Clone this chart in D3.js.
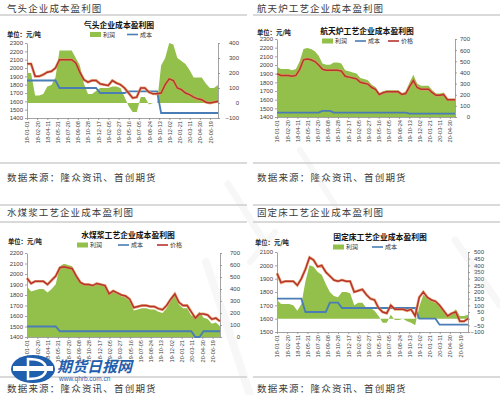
<!DOCTYPE html>
<html>
<head>
<meta charset="utf-8">
<script src="https://cdn.jsdelivr.net/npm/d3@7"></script>
<style>
body{margin:0;background:#fff;}
svg text{font-family:"Liberation Sans",Arial,sans-serif;}
.cn{font-family:"Noto Sans CJK SC",sans-serif;}
</style>
</head>
<body>
<svg id="chart" width="500" height="395"></svg>
<script>
// x axis tick dates (every 50 days, as in the source sheets)
const tickDates = ["2018-01-01","2018-02-20","2018-04-11","2018-05-31","2018-07-20","2018-09-08",
  "2018-10-28","2018-12-17","2019-02-05","2019-03-27","2019-05-16","2019-07-05","2019-08-24",
  "2019-10-13","2019-12-02","2020-01-21","2020-03-11","2020-04-30","2020-06-19"];

// 气头 (gas based)
const price1 = [2050,2050,1900,1900,1920,1950,1960,2000,2100,2100,2100,2100,2060,1950,1860,1830,
  1850,1850,1810,1800,1790,1850,1820,1800,1760,1700,1640,1650,1760,1760,1710,1690,1690,1700,1800,
  1870,1850,1760,1740,1700,1680,1650,1630,1620,1590,1580,1590,1600];
const cost1 = [1850,1850,1850,1850,1850,1850,1850,1850,1760,1760,1760,1760,1760,1760,1760,1760,
  1760,1760,1700,1700,1700,1700,1700,1700,1700,1720,1720,1720,1720,1720,1720,1720,1720,1460,1460,
  1460,1460,1460,1460,1460,1460,1460,1460,1460,1460,1460,1460,1460];
const profit1 = [200,200,50,50,60,110,120,170,350,350,350,350,300,250,130,60,60,80,100,100,100,110,
  110,100,40,-20,-60,-60,40,40,-10,0,0,250,300,400,390,300,280,260,220,170,170,170,130,100,100,120];

// 航天炉
const price2 = [1900,1880,1880,1880,1870,1880,1950,2060,2070,2060,2040,2000,1950,1940,1940,1940,
  1940,1930,1870,1860,1850,1840,1800,1790,1780,1740,1720,1660,1680,1690,1690,1690,1690,1660,1670,
  1750,1820,1740,1720,1720,1720,1680,1650,1650,1660,1600,1600,1600];
const cost2 = [1450,1450,1450,1450,1450,1450,1450,1450,1450,1450,1450,1450,1470,1470,1470,1450,
  1450,1450,1450,1450,1450,1450,1450,1450,1450,1450,1450,1450,1450,1450,1450,1450,1450,1450,1450,
  1440,1440,1440,1440,1440,1440,1440,1440,1440,1440,1440,1440,1440];
const profit2 = [450,430,430,430,420,430,500,610,620,610,590,550,480,470,470,490,490,480,420,410,
  400,390,350,340,330,290,270,210,230,240,240,240,240,210,230,310,380,300,280,280,280,240,210,210,
  220,160,160,160];

// 水煤浆
const price3 = [1960,1910,1930,1930,1930,1900,1940,1980,2060,2070,2060,2050,1980,1920,1900,1900,
  1890,1910,1900,1890,1810,1840,1820,1800,1790,1760,1680,1690,1700,1700,1690,1690,1670,1660,1700,
  1760,1810,1730,1700,1700,1640,1580,1620,1620,1610,1570,1580,1550];
const cost3 = [1500,1500,1500,1500,1500,1500,1500,1500,1455,1455,1455,1455,1455,1455,1455,1455,
  1455,1455,1455,1455,1455,1455,1455,1455,1455,1455,1455,1455,1455,1455,1455,1455,1455,1455,1455,
  1455,1455,1455,1455,1455,1455,1400,1400,1455,1455,1455,1455,1455];
const profit3 = [420,380,390,400,400,370,400,440,590,610,600,590,520,460,440,440,430,450,440,430,
  350,380,360,340,330,300,220,230,240,240,230,230,210,200,240,300,350,270,240,240,180,170,210,160,
  150,110,120,90];

// 固定床
const price4 = [1940,1870,1880,1880,1880,1850,1900,1970,2060,2040,1990,2000,1950,1920,1890,1880,
  1890,1880,1880,1800,1810,1820,1780,1750,1740,1680,1650,1640,1700,1670,1670,1670,1660,1670,1620,
  1760,1800,1760,1740,1730,1700,1660,1620,1640,1650,1580,1580,1600];
const cost4 = [1750,1750,1750,1750,1750,1750,1750,1650,1650,1650,1650,1650,1650,1720,1720,1720,
  1680,1680,1680,1680,1680,1680,1680,1680,1680,1680,1680,1680,1680,1680,1680,1680,1680,1680,1680,
  1600,1600,1600,1600,1600,1555,1555,1555,1555,1555,1555,1555,1555];
const profit4 = [140,110,110,110,100,60,110,280,400,390,350,330,260,200,170,160,200,200,190,100,
  120,120,80,80,60,20,-30,-30,30,-10,-10,0,-20,-30,-50,90,180,150,130,120,100,60,20,40,70,20,20,30];

const GREEN = "#93bf4b", BLUE = "#4a7cb5", RED = "#b8332f";
const svg = d3.select("#chart");
const parse = d3.timeParse("%Y-%m-%d");
const fmt = d3.timeFormat("%y-%m-%d");

const panels = [
  {sec:"气头企业成本盈利图", secX:7, secY:9, srcX:7, srcY:178, lineTop:null, lineUnder:15, lineSrc:163, lx0:0, lx1:247,
   title:"气头企业成本盈利图", titleX:119, titleY:25.5, unitX:7, unitY:35,
   legend:[{k:"area",x:90,t:"利润"},{k:"cost",x:127,t:"成本"}], legY:34.5,
   x0:27, x1:218, yTop:43, yBot:118, end:"2020-07-28", nTicks:19,
   left:[1400,2300,100], right:[-100,400,100], rEnd:239,
   price:price1, cost:cost1, profit:profit1},
  {sec:"航天炉工艺企业成本盈利图", secX:257, secY:9, srcX:257, srcY:178, lineTop:null, lineUnder:15, lineSrc:163, lx0:253, lx1:500,
   title:"航天炉工艺企业成本盈利图", titleX:367, titleY:31.5, unitX:257, unitY:33,
   legend:[{k:"area",x:322,t:"利润"},{k:"cost",x:355,t:"成本"},{k:"price",x:388,t:"价格"}], legY:41,
   x0:277, x1:455, yTop:39, yBot:117, end:"2020-05-25", nTicks:18,
   left:[1400,2300,100], right:[0,700,100], rEnd:470,
   price:price2, cost:cost2, profit:profit2},
  {sec:"水煤浆工艺企业成本盈利图", secX:7, secY:213, srcX:7, srcY:389, lineTop:205, lineUnder:222, lineSrc:377, lx0:0, lx1:247,
   title:"水煤浆工艺企业成本盈利图", titleX:128, titleY:235.5, unitX:8, unitY:242,
   legend:[{k:"area",x:77,t:"利润"},{k:"cost",x:118,t:"成本"},{k:"price",x:157,t:"价格"}], legY:245,
   x0:27, x1:220, yTop:253, yBot:337, end:"2020-07-25", nTicks:19,
   left:[1400,2200,100], right:[0,700,100], rEnd:240,
   price:price3, cost:cost3, profit:profit3},
  {sec:"固定床工艺企业成本盈利图", secX:257, secY:213, srcX:257, srcY:389, lineTop:205, lineUnder:222, lineSrc:377, lx0:253, lx1:500,
   title:"固定床工艺企业成本盈利图", titleX:380, titleY:237.5, unitX:255, unitY:243,
   legend:[{k:"area",x:333,t:"利润"},{k:"cost",x:372,t:"成本"}], legY:247,
   x0:277, x1:468, yTop:252, yBot:332, end:"2020-07-28", nTicks:19,
   left:[1500,2100,100], right:[-100,500,50], rEnd:484,
   price:price4, cost:cost4, profit:profit4}
];

function drawPanel(p){
  const g = svg.append("g");

  // section frame lines and texts
  [p.lineTop, p.lineUnder, p.lineSrc].forEach(function(y){
    if(y==null) return;
    g.append("line").attr("x1",p.lx0).attr("x2",p.lx1).attr("y1",y).attr("y2",y)
      .attr("stroke","#b4b4b4").attr("stroke-width",1);
  });
  g.append("text").attr("class","cn").attr("x",p.secX).attr("y",p.secY).attr("dy","0.35em")
    .attr("font-size",9.5).attr("letter-spacing",1.1).attr("fill","#3a3a3a").text(p.sec);
  g.append("text").attr("class","cn").attr("x",p.srcX).attr("y",p.srcY).attr("dy","0.35em")
    .attr("font-size",9.5).attr("letter-spacing",1.2).attr("fill","#3a3a3a").text("数据来源：隆众资讯、首创期货");

  const start = parse(tickDates[0]), end = parse(p.end);
  const x = d3.scaleTime().domain([start, end]).range([p.x0, p.x1]);
  const xi = d3.scaleLinear().domain([0, p.price.length-1]).range([p.x0, p.x1]);
  const yL = d3.scaleLinear().domain([p.left[0], p.left[1]]).range([p.yBot, p.yTop]);
  const yR = d3.scaleLinear().domain([p.right[0], p.right[1]]).range([p.yBot, p.yTop]);

  // axes
  const ax = g.append("g").attr("transform","translate(0,"+p.yBot+")")
    .call(d3.axisBottom(x).tickValues(tickDates.slice(0,p.nTicks).map(parse)).tickFormat(fmt)
      .tickSize(2).tickSizeOuter(0));
  ax.selectAll("text").attr("transform","rotate(-90)").attr("text-anchor","end")
    .attr("x",-3).attr("y",0).attr("dy","0.35em").attr("font-size",5.6).attr("fill","#404040");

  const al = g.append("g").attr("transform","translate("+p.x0+",0)")
    .call(d3.axisLeft(yL).tickValues(d3.range(p.left[0], p.left[1]+1, p.left[2]))
      .tickFormat(d3.format("d")).tickSize(2).tickSizeOuter(0).tickPadding(2));
  al.selectAll("text").attr("font-size",6).attr("fill","#404040");

  const ar = g.append("g").attr("transform","translate("+p.x1+",0)")
    .call(d3.axisRight(yR).tickValues(d3.range(p.right[0], p.right[1]+1, p.right[2]))
      .tickFormat(d3.format("d")).tickSize(2).tickSizeOuter(0));
  ar.selectAll("text").attr("font-size",6).attr("fill","#404040")
    .attr("text-anchor","end").attr("x", p.rEnd - p.x1);

  [ax, al, ar].forEach(function(a){
    a.selectAll("path,line").attr("stroke","#8c8c8c").attr("stroke-width",0.8);
  });

  // series
  const area = d3.area().x(function(d,i){ return xi(i); }).y0(yR(0)).y1(function(d){ return yR(d); });
  g.append("path").datum(p.profit).attr("d",area).attr("fill",GREEN);

  const lineL = d3.line().x(function(d,i){ return xi(i); }).y(function(d){ return yL(d); });
  g.append("path").datum(p.cost).attr("d",lineL).attr("fill","none")
    .attr("stroke",BLUE).attr("stroke-width",1.8);
  g.append("path").datum(p.price).attr("d",lineL).attr("fill","none")
    .attr("stroke","#e09a5a").attr("stroke-width",2.8).attr("stroke-opacity",0.8);
  g.append("path").datum(p.price).attr("d",lineL).attr("fill","none")
    .attr("stroke",RED).attr("stroke-width",1.5);

  // title, unit, legend
  g.append("text").attr("class","cn").attr("x",p.titleX).attr("y",p.titleY).attr("dy","0.35em")
    .attr("text-anchor","middle").attr("font-size",7.8).attr("font-weight","bold").attr("fill","#111").text(p.title);
  g.append("text").attr("class","cn").attr("x",p.unitX).attr("y",p.unitY).attr("dy","0.35em")
    .attr("font-size",6.3).attr("font-weight","bold").attr("fill","#222").text("单位：元/吨");

  p.legend.forEach(function(l){
    if(l.k=="area"){
      g.append("rect").attr("x",l.x).attr("y",p.legY-2.5).attr("width",11).attr("height",5).attr("fill",GREEN);
    } else {
      g.append("line").attr("x1",l.x).attr("x2",l.x+11).attr("y1",p.legY).attr("y2",p.legY)
        .attr("stroke", l.k=="cost" ? BLUE : RED).attr("stroke-width",1.6);
    }
    g.append("text").attr("class","cn").attr("x",l.x+13).attr("y",p.legY).attr("dy","0.35em")
      .attr("font-size",6).attr("fill","#333").text(l.t);
  });
}

panels.forEach(drawPanel);

// faint watermark strokes
const wm = svg.append("g").attr("stroke","#d4d4d4").attr("stroke-opacity",0.18)
  .attr("stroke-linecap","round").attr("fill","none");
wm.append("path").attr("d","M228,184 L262,238").attr("stroke-width",7);
wm.append("path").attr("d","M300,150 L335,205").attr("stroke-width",6);
wm.append("path").attr("d","M206,262 L250,395").attr("stroke-width",8);
wm.append("path").attr("d","M455,240 L500,305").attr("stroke-width",7);
wm.append("path").attr("d","M275,232 L250,262").attr("stroke-width",6);

// newspaper logo, bottom left
const logo = svg.append("g");
logo.append("ellipse").attr("cx",33).attr("cy",369).attr("rx",22).attr("ry",14).attr("fill","#1f5fae");
logo.append("rect").attr("x",13).attr("y",366).attr("width",40).attr("height",5).attr("fill","#fff");
logo.append("path").attr("d","M28,359 L28,379 Q46,379 46,369 Q46,359 28,359 Z")
  .attr("fill","none").attr("stroke","#fff").attr("stroke-width",2.5);
logo.append("text").attr("class","cn").attr("x",57).attr("y",367).attr("dy","0.35em")
  .attr("font-size",15).attr("font-weight","bold").attr("font-style","italic").attr("fill","#1f5fae").text("期货日报网");
logo.append("text").attr("x",59).attr("y",379).attr("dy","0.35em")
  .attr("font-size",6.5).attr("fill","#1f5fae").text("www.qhrb.com.cn");
</script>
</body>
</html>
